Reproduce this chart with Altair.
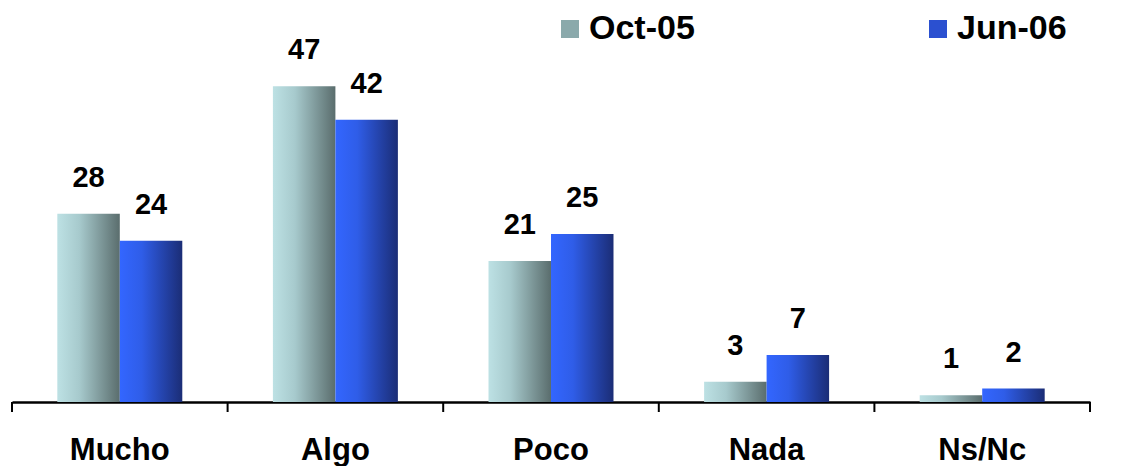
import altair as alt
import pandas as pd

categories = ["Mucho", "Algo", "Poco", "Nada", "Ns/Nc"]
series = ["Oct-05", "Jun-06"]
oct05 = [28, 47, 21, 3, 1]
jun06 = [24, 42, 25, 7, 2]

rows = []
for c, a, b in zip(categories, oct05, jun06):
    rows.append({"cat": c, "serie": "Oct-05", "value": a})
    rows.append({"cat": c, "serie": "Jun-06", "value": b})
df = pd.DataFrame(rows)
bounds = pd.DataFrame({"cat": categories})
last = pd.DataFrame({"cat": [categories[-1]]})

grad_oct = alt.LinearGradient(
    gradient="linear", x1=0, x2=1, y1=0, y2=0,
    stops=[alt.GradientStop(offset=0, color="#bde1e4"),
           alt.GradientStop(offset=0.35, color="#a7cacd"),
           alt.GradientStop(offset=1, color="#5a6d6d")])
grad_jun = alt.LinearGradient(
    gradient="linear", x1=0, x2=1, y1=0, y2=0,
    stops=[alt.GradientStop(offset=0, color="#3366ff"),
           alt.GradientStop(offset=0.35, color="#2f5de8"),
           alt.GradientStop(offset=1, color="#1b2d76")])

H = 336
FONT = "Liberation Sans"

x_enc = alt.X("cat:N", sort=categories, title=None,
              scale=alt.Scale(paddingInner=0, paddingOuter=0),
              axis=alt.Axis(ticks=False, labelAngle=0, labelFont=FONT,
                            labelFontSize=31, labelFontWeight="bold",
                            labelColor="black", labelPadding=33,
                            domainColor="black", domainWidth=2.5))
y_enc = alt.Y("value:Q", axis=None, scale=alt.Scale(domain=[0, 50]))
xo = alt.XOffset("serie:N", sort=series,
                 scale=alt.Scale(domain=series, paddingInner=0, paddingOuter=0.725))

base = alt.Chart(df)

bars_oct = base.transform_filter(alt.datum.serie == "Oct-05").mark_bar(
    fill=grad_oct).encode(x=x_enc, y=y_enc, xOffset=xo)
bars_jun = base.transform_filter(alt.datum.serie == "Jun-06").mark_bar(
    fill=grad_jun).encode(x=x_enc, y=y_enc, xOffset=xo)

legend_layer = base.mark_square(opacity=0, size=1).encode(
    x=x_enc, y=y_enc, xOffset=xo,
    color=alt.Color("serie:N", sort=series,
                    scale=alt.Scale(domain=series, range=["#8aa9ab", "#2b50d0"]),
                    legend=alt.Legend(title=None, orient="none", direction="horizontal",
                                      legendX=541, legendY=-54,
                                      symbolType="square", symbolSize=324,
                                      symbolOpacity=1, symbolStrokeWidth=0,
                                      labelFont=FONT, labelFontSize=34,
                                      labelFontWeight="bold", labelColor="black",
                                      labelOffset=2, columnPadding=226)))

labels = base.mark_text(font=FONT, fontSize=29, fontWeight="bold", color="black",
                        baseline="alphabetic", dy=-27).encode(
    x=x_enc, y=y_enc, xOffset=xo, text=alt.Text("value:Q"))

ticks = alt.Chart(bounds).mark_rule(color="black", strokeWidth=2).encode(
    x=alt.X("cat:N", sort=categories, bandPosition=0),
    y=alt.value(H), y2=alt.value(H + 10))
tick_last = alt.Chart(last).mark_rule(color="black", strokeWidth=2).encode(
    x=alt.X("cat:N", sort=categories, bandPosition=1),
    y=alt.value(H), y2=alt.value(H + 10))

chart = alt.layer(bars_oct, bars_jun, legend_layer, labels, ticks, tick_last).properties(
    width=1078, height=H,
    autosize=alt.AutoSizeParams(type="none"),
    padding={"left": 4, "top": 58, "right": 25, "bottom": 64},
    background="white",
).configure_view(strokeWidth=0, stroke=None)

chart.save("out.html", embed_options={"renderer": "svg", "actions": False})
